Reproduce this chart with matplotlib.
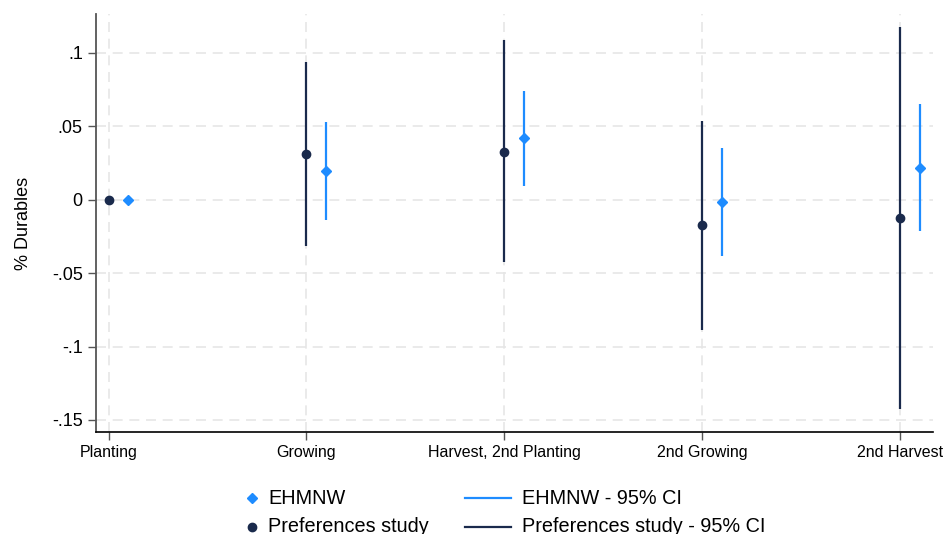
import matplotlib
matplotlib.use("Agg")
import matplotlib.pyplot as plt
from matplotlib.lines import Line2D
import numpy as np

plt.rcParams['font.family'] = ['Liberation Sans', 'DejaVu Sans']

# periods on the x axis
periods = ['Planting', 'Growing', 'Harvest, 2nd Planting', '2nd Growing', '2nd Harvest']

# Preferences study estimates and 95% CI
pref_est = [0.0, 0.031, 0.0325, -0.0175, -0.0125]
pref_lo = [0.0, -0.0313, -0.0424, -0.0888, -0.1424]
pref_hi = [0.0, 0.0936, 0.1088, 0.0538, 0.1179]

# EHMNW estimates and 95% CI
ehm_est = [0.0, 0.0198, 0.042, -0.0018, 0.0216]
ehm_lo = [0.0, -0.0136, 0.0093, -0.0381, -0.0215]
ehm_hi = [0.0, 0.0531, 0.074, 0.035, 0.065]

navy = '#1a2a4c'
blue = '#1e8cff'

x = np.arange(len(periods))
offset = 0.1

W, H = 943, 534
fig = plt.figure(figsize=(W / 100, H / 100), dpi=100)
ax = fig.add_axes([0.1018, 0.191, 0.8872, 0.783])

ax.vlines(x, pref_lo, pref_hi, color=navy, linewidth=1.6, zorder=2)
ax.vlines(x + offset, ehm_lo, ehm_hi, color=blue, linewidth=1.6, zorder=2)
ax.plot(x, pref_est, 'o', color=navy, markersize=6, zorder=3)
ax.plot(x + offset, ehm_est, 'D', color=blue, markersize=5.5, zorder=3)

ax.set_xlim(-0.064, 4.165)
ax.set_ylim(-0.1582, 0.1265)
ax.set_xticks(x)
ax.set_xticklabels(periods, fontsize=11.5)
yt = [-0.15, -0.1, -0.05, 0, 0.05, 0.1]
ax.set_yticks(yt)
ax.set_yticklabels(['-.15', '-.1', '-.05', '0', '.05', '.1'], fontsize=13)
ax.set_ylabel('% Durables', fontsize=13, labelpad=14)

ax.grid(True, color='#e6e6e6', linestyle=(0, (6, 4)), linewidth=1.2, zorder=0)
ax.set_axisbelow(True)
for s in ['top', 'right']:
    ax.spines[s].set_visible(False)
ax.spines['left'].set_color('#555555')
ax.spines['left'].set_linewidth(1.3)
ax.spines['bottom'].set_color('black')
ax.spines['bottom'].set_linewidth(1.2)
ax.tick_params(axis='both', length=6, width=1, color='#555555')

# legend drawn by hand (Stata style: short marker keys, long line keys)
def fx(px):
    return px / W

def fy(py):
    return 1 - py / H

rows = [498, 527]
markers = [('D', blue, 5.5, 'EHMNW'), ('o', navy, 6, 'Preferences study')]
lines = [(blue, 'EHMNW - 95% CI'), (navy, 'Preferences study - 95% CI')]
for ry, (m, c, ms, lab) in zip(rows, markers):
    fig.add_artist(Line2D([fx(252)], [fy(ry)], marker=m, color=c, markersize=ms,
                          linestyle='none', transform=fig.transFigure))
    fig.text(fx(268), fy(ry), lab, fontsize=14.3, va='center', ha='left')
for ry, (c, lab) in zip(rows, lines):
    fig.add_artist(Line2D([fx(465), fx(511)], [fy(ry), fy(ry)], color=c,
                          linewidth=1.6, transform=fig.transFigure))
    fig.text(fx(522), fy(ry), lab, fontsize=14.3, va='center', ha='left')

fig.savefig('out.png', dpi=100)
